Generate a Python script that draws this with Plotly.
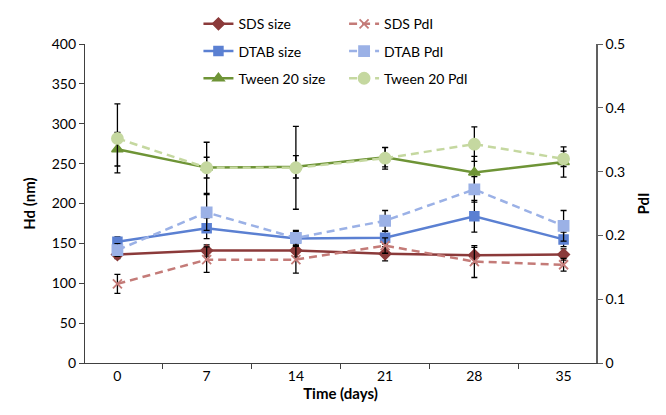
import plotly.graph_objects as go

days = ["0", "7", "14", "21", "28", "35"]

sds_size = [136, 141, 141, 137, 135, 136]
dtab_size = [152, 169, 156, 157, 184, 155]
tween_size = [268, 245, 246, 258, 239, 252]

sds_pdi = [0.124, 0.162, 0.162, 0.184, 0.159, 0.154]
dtab_pdi = [0.177, 0.236, 0.196, 0.223, 0.272, 0.215]
tween_pdi = [0.352, 0.306, 0.306, 0.321, 0.343, 0.320]

sds_size_err = [5, 7, 8, 9, 10, 7]
dtab_size_err = [6, 13, 9, 8, 20, 9]
tween_size_err = [21, 13, 14, 12, 20, 19]

sds_pdi_err = [0.015, 0.02, 0.021, 0.012, 0.025, 0.01]
dtab_pdi_err = [0.01, 0.028, 0.012, 0.016, 0.02, 0.024]
tween_pdi_err = [0.054, 0.04, 0.065, 0.017, 0.027, 0.012]

FONT = "Lato"

def err(vals):
    return dict(type="data", array=vals, visible=True, color="#000000",
                thickness=1.3, width=3)

size_series = [
    ("SDS size", sds_size, sds_size_err, "#8B3A3A", "diamond", 9),
    ("DTAB size", dtab_size, dtab_size_err, "#5B80D2", "square", 9),
    ("Tween 20 size", tween_size, tween_size_err, "#6E9436", "triangle-up", 10),
]
pdi_series = [
    ("SDS PdI", sds_pdi, sds_pdi_err, "#C47B78", "x-thin-open", 9),
    ("DTAB PdI", dtab_pdi, dtab_pdi_err, "#9BB1E6", "square", 10),
    ("Tween 20 PdI", tween_pdi, tween_pdi_err, "#C5D8A0", "circle", 11),
]

fig = go.Figure()
for i, (name, vals, e, col, sym, ms) in enumerate(size_series):
    fig.add_trace(go.Scatter(
        x=days, y=vals, name=name, mode="lines+markers",
        line=dict(color=col, width=2.5),
        marker=dict(symbol=sym, size=ms, color=col, line=dict(color=col, width=1.5)),
        error_y=err(e), legend="legend", legendgroup="a%d" % i,
    ))
for i, (name, vals, e, col, sym, ms) in enumerate(pdi_series):
    fig.add_trace(go.Scatter(
        x=days, y=vals, name=name, mode="lines+markers", yaxis="y2",
        line=dict(color=col, width=2.5, dash="8px,5px"),
        marker=dict(symbol=sym, size=ms, color=col, line=dict(color=col, width=1.8)),
        error_y=err(e), legend="legend2", legendgroup="b%d" % i,
    ))

legend_common = dict(
    orientation="v", traceorder="grouped", tracegroupgap=6,
    font=dict(family=FONT, size=14, color="#000000"),
    bgcolor="rgba(0,0,0,0)", borderwidth=0,
    xanchor="left", yanchor="top",
    itemwidth=30,
)

fig.update_layout(
    width=666, height=415,
    margin=dict(l=77, r=78, t=36, b=60, autoexpand=False),
    plot_bgcolor="white", paper_bgcolor="white",
    font=dict(family=FONT, size=14, color="#000000"),
    showlegend=True,
    legend=dict(x=0.222, y=1.112, **legend_common),
    legend2=dict(x=0.507, y=1.112, **legend_common),
    xaxis=dict(
        type="category", tickson="boundaries", ticks="outside", ticklen=5,
        tickcolor="#404040", showline=True, linecolor="#404040", linewidth=1.3,
        showgrid=False, zeroline=False, automargin=False,
        title=dict(text="<b>Time (days)</b>", font=dict(family=FONT, size=15), standoff=2),
        tickfont=dict(family=FONT, size=14),
    ),
    yaxis=dict(
        range=[0, 400], dtick=50, ticks="outside", ticklen=5,
        tickcolor="#404040", showline=True, linecolor="#404040", linewidth=1.3,
        showgrid=False, zeroline=False, automargin=False,
        title=dict(text="<b>Hd (nm)</b>", font=dict(family=FONT, size=15), standoff=12),
        tickfont=dict(family=FONT, size=14),
    ),
    yaxis2=dict(
        range=[0, 0.5], dtick=0.1, overlaying="y", side="right",
        ticks="outside", ticklen=5, tickcolor="#606060",
        showline=True, linecolor="#606060", linewidth=1.5,
        showgrid=False, zeroline=False, automargin=False,
        title=dict(text="<b>PdI</b>", font=dict(family=FONT, size=15), standoff=14),
        tickfont=dict(family=FONT, size=14),
    ),
)

fig.write_html("out.html")
